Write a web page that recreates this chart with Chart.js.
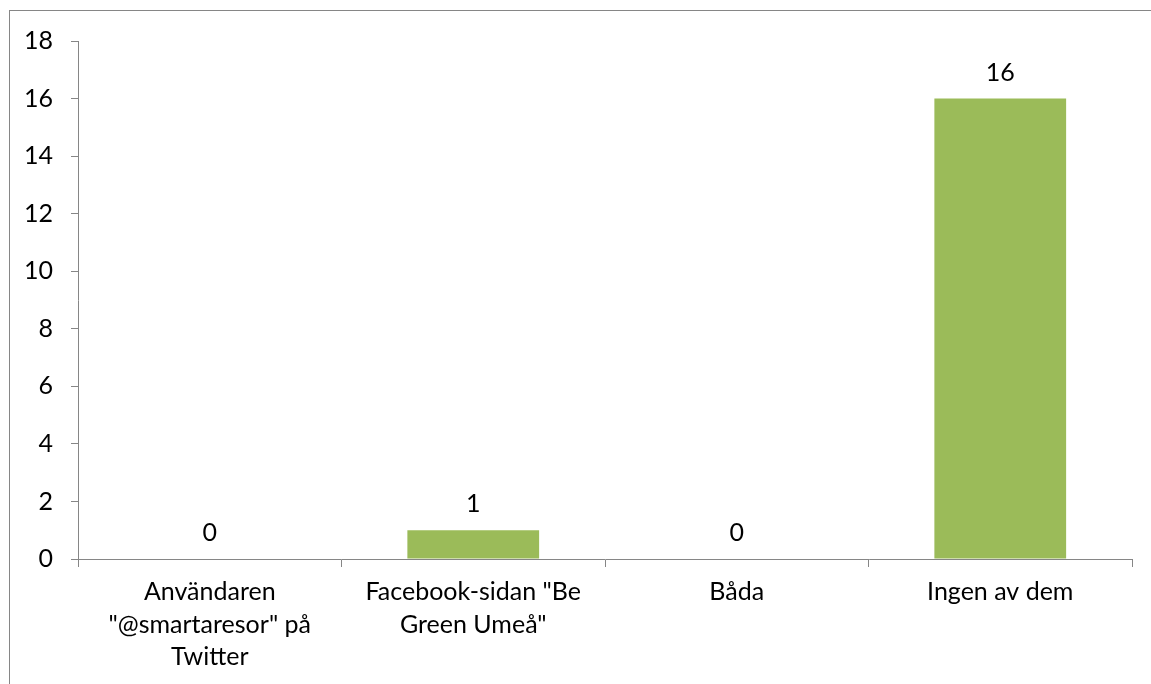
<!DOCTYPE html>
<html>
<head>
<meta charset="utf-8">
<script src="https://cdn.jsdelivr.net/npm/chart.js@4/dist/chart.umd.min.js"></script>
<style>
  html, body { margin: 0; padding: 0; background: #fff; }
  #wrap { width: 1151px; height: 684px; }
</style>
</head>
<body>
<div id="wrap"><canvas id="chart"></canvas></div>
<script>
const categories = [
    ['Användaren', '"@smartaresor" på', 'Twitter'],
    ['Facebook-sidan "Be', 'Green Umeå"'],
    ['Båda'],
    ['Ingen av dem']
]
const answers = [0, 1, 0, 16]
const yTicks = [0, 2, 4, 6, 8, 10, 12, 14, 16, 18]

const fontFamily = 'Lato, "Open Sans", sans-serif'
const axisGray = '#868686'

// frame round the whole chart, like the Excel chart area border
const frame = {
    id: 'frame',
    beforeDraw(chart) {
        const c = chart.ctx
        c.save()
        c.strokeStyle = axisGray
        c.lineWidth = 1
        c.strokeRect(9.5, 10.5, chart.width + 20, chart.height + 20)
        c.restore()
    }
}

// value labels above each bar
const valueLabels = {
    id: 'valueLabels',
    afterDatasetsDraw(chart) {
        const c = chart.ctx
        const meta = chart.getDatasetMeta(0)
        c.save()
        c.font = '25px ' + fontFamily
        c.fillStyle = '#000'
        c.textAlign = 'center'
        c.textBaseline = 'middle'
        meta.data.forEach((bar, i) => {
            c.fillText(String(answers[i]), bar.x, bar.y - 26)
        })
        c.restore()
    }
}

var ctx = document.getElementById('chart').getContext('2d')

var chart = new Chart(ctx, {
    type: 'bar',
    data: {
        labels: categories,
        datasets: [{
            data: answers,
            backgroundColor: '#9BBB59',
            borderWidth: 0,
            barPercentage: 1,
            categoryPercentage: 0.5
        }]
    },
    options: {
        responsive: true,
        maintainAspectRatio: false,
        animation: false,
        layout: { padding: { left: 0, top: 41, right: 19, bottom: 0 } },
        plugins: {
            legend: { display: false },
            tooltip: { enabled: false }
        },
        scales: {
            x: {
                grid: {
                    offset: true,
                    drawOnChartArea: false,
                    tickLength: 8,
                    color: axisGray
                },
                border: { color: axisGray, width: 1 },
                ticks: {
                    color: '#000',
                    font: { family: fontFamily, size: 25, lineHeight: 1.3 },
                    padding: 9,
                    maxRotation: 0,
                    autoSkip: false
                },
                afterFit(scale) { scale.height = 684 - 559 }
            },
            y: {
                min: 0,
                max: 18,
                afterBuildTicks(scale) {
                    scale.ticks = yTicks.map(v => ({ value: v }))
                },
                grid: {
                    drawOnChartArea: false,
                    tickLength: 7,
                    color: axisGray
                },
                border: { color: axisGray, width: 1 },
                ticks: {
                    color: '#000',
                    font: { family: fontFamily, size: 25 },
                    padding: 18
                },
                afterFit(scale) { scale.width = 78 }
            }
        }
    },
    plugins: [frame, valueLabels]
})
</script>
</body>
</html>
